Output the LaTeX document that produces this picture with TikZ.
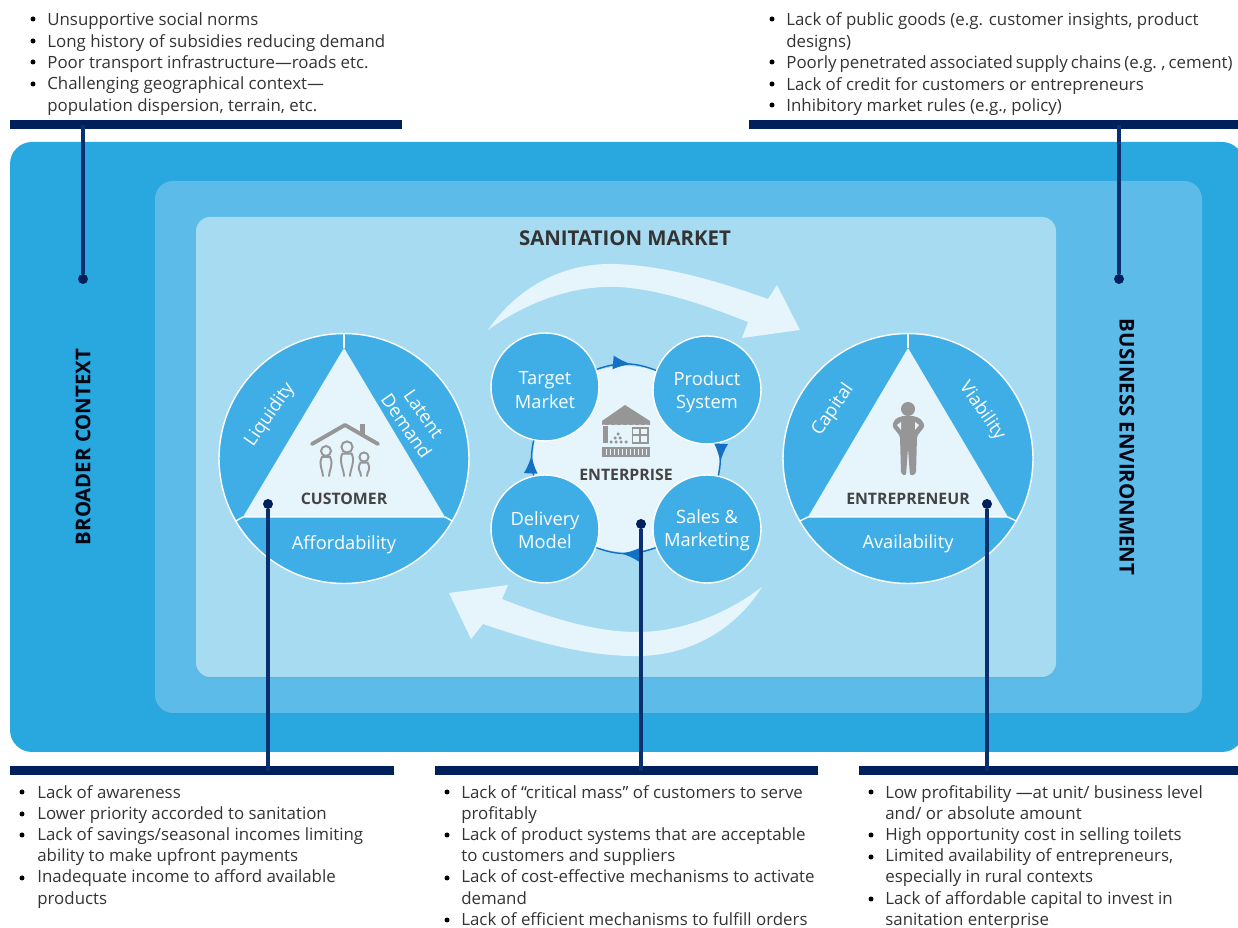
\documentclass[tikz,border=0pt]{standalone}
\usepackage{fontspec}
\setmainfont{Open Sans}
\usetikzlibrary{calc,decorations.markings,shadows}
\usetikzlibrary{arrows}
\definecolor{outerblue}{HTML}{29A8E0}
\definecolor{midblue}{HTML}{5CBBE8}
\definecolor{innerblue}{HTML}{A6DBF2}
\definecolor{discblue}{HTML}{3FAEE6}
\definecolor{palefill}{HTML}{E6F4FC}
\definecolor{navybar}{HTML}{00205B}
\definecolor{navyline}{HTML}{0A2F6E}
\definecolor{ringblue}{HTML}{1470C4}
\definecolor{icongray}{HTML}{969696}
\definecolor{textgray}{HTML}{333333}
\definecolor{wordgray}{HTML}{444444}
\tikzset{
  panelshade/.style={drop shadow={opacity=0.18,shadow xshift=0pt,shadow yshift=-0.6pt}},
  listtext/.style={anchor=north west,inner sep=0pt,align=left,text=textgray,font=\fontsize{9.6}{12.2}\selectfont},
  lowlist/.style={listtext,font=\fontsize{9.6}{12.05}\selectfont},
  bardark/.style={fill=navybar,inner sep=0pt,minimum height=0.18cm,anchor=north west},
  pointdot/.style={circle,fill=navybar,inner sep=0pt,minimum size=0.2cm},
  pointline/.style={draw=navyline,line width=1.8pt},
  bigdisc/.style={circle,draw=white,fill=discblue,line width=0.8pt,inner sep=0pt,minimum size=5cm},
  stepdisc/.style={circle,draw=white,fill=discblue,line width=0.8pt,inner sep=0pt,minimum size=2.16cm},
  disctext/.style={text=white,align=center,inner sep=0pt,font=\fontsize{10.4}{12}\selectfont},
  stepword/.style={text=white,align=center,inner sep=0pt,font=\fontsize{10.4}{13.2}\selectfont},
  boldtext/.style={text=wordgray,inner sep=0pt,font=\fontsize{9}{10}\bfseries\selectfont},
  ringarrow/.style={draw=ringblue,line width=0.8pt,decoration={markings,mark=at position 0.58 with {\arrow[scale=2]{latex}}},postaction={decorate}},
  sideword/.style={text=black!80!navybar,inner sep=0pt,font=\fontsize{11.6}{14}\bfseries\selectfont}
}
\begin{document}
\begin{tikzpicture}[x=0.02cm,y=-0.02cm]
\useasboundingbox (0,0) rectangle (1238,928);
% panels
\fill[outerblue,rounded corners=0.44cm] (10,142) rectangle (1244,752);
\fill[midblue,rounded corners=0.36cm,panelshade] (155,181) rectangle (1202,713);
\fill[innerblue,rounded corners=0.28cm,panelshade] (196,217) rectangle (1056,677);
\node[sideword,rotate=90] (broader) at (83,447) {BROADER CONTEXT};
\node[sideword,rotate=-90] (business) at (1127,447) {BUSINESS ENVIRONMENT};
\node[sideword,text=textgray] (market) at (625,238.5) {SANITATION MARKET};
% big arrows
\fill[palefill] (488,330) .. controls (515,290) and (560,263) .. (613,264) .. controls (665,265) and (720,282) .. (768,299) -- (777,285) -- (800,330) -- (742,338) -- (748,322) .. controls (700,303) and (660,290) .. (620,287) .. controls (575,285) and (530,300) .. (488,330) -- cycle;
\fill[palefill] (762,587) .. controls (735,630) and (690,655) .. (640,656) .. controls (585,657) and (530,640) .. (483,624) -- (471,639) -- (449,593) -- (508,585) -- (502,599) .. controls (550,618) and (595,632) .. (637,632) .. controls (680,632) and (725,615) .. (762,587) -- cycle;
% customer
\node[bigdisc] (customer) at (344,458.5) {};
\fill[palefill] (344,348) -- (243,517) -- (445,517) -- cycle;
\draw[white,line width=0.8pt] (customer.90) -- (344,348);
\draw[white,line width=0.8pt] (customer.210) -- (243,517) -- (445,517) -- (customer.330);
\node[disctext,rotate=55] (liquidity) at (270,415) {Liquidity};
\node[disctext,rotate=-55] (latent) at (415,420) {Latent\\Demand};
\node[disctext] (afford) at (344,544.5) {Affordability};
\node[boldtext] (customerword) at (344,499) {CUSTOMER};
% house and family
\draw[icongray,line width=2.2pt,line cap=round,line join=round] (312,444) -- (345,425) -- (378,444);
\fill[icongray] (360,424) rectangle (365,434);
\foreach \px/\py/\pr in {326/451/5,347/447/5.6,364/457/4.6}{
  \draw[icongray,line width=1.1pt] (\px,\py) circle[radius=\pr*0.02cm];
  \draw[icongray,line width=1.1pt,line cap=round] (\px-3,476) .. controls (\px-3,470) and (\px-\pr-3,\py+14) .. (\px-\pr+1,\py+\pr+1) -- (\px+\pr-1,\py+\pr+1) .. controls (\px+\pr+3,\py+14) and (\px+3,470) .. (\px+3,476);
}
% entrepreneur
\node[bigdisc] (entrepreneur) at (908,458.5) {};
\fill[palefill] (908,348) -- (808,517) -- (1008,517) -- cycle;
\draw[white,line width=0.8pt] (entrepreneur.90) -- (908,348);
\draw[white,line width=0.8pt] (entrepreneur.210) -- (808,517) -- (1008,517) -- (entrepreneur.330);
\node[disctext,rotate=55] (capital) at (833,410) {Capital};
\node[disctext,rotate=-55] (viability) at (982,411) {Viability};
\node[disctext] (avail) at (908,544) {Availability};
\node[boldtext] (entreword) at (908,499) {ENTREPRENEUR};
% person
\fill[icongray] (908,409) circle[radius=0.14cm];
\fill[icongray,rounded corners=1.5pt] (902,416) -- (914,416) -- (921,419) -- (925,426) -- (917,436) -- (916,474) -- (910,476) -- (908,448) -- (906,476) -- (901,474) -- (900,436) -- (892,426) -- (895,419) -- cycle;
\fill[palefill] (897,425) -- (901,422) -- (901,430) -- cycle (919,425) -- (915,422) -- (915,430) -- cycle;
% enterprise
\node[circle,fill=palefill,inner sep=0pt,minimum size=3.72cm] (hub) at (626,459) {};
\node[stepdisc] (target) at (545,387) {};
\node[stepdisc] (product) at (707,390) {};
\node[stepdisc] (sales) at (707,529) {};
\node[stepdisc] (delivery) at (545,529) {};
\node[stepword] (targetword) at (545,390) {Target\\Market};
\node[stepword] (productword) at (707,392.5) {Product\\System};
\node[stepword] (salesword) at (707,530.5) {Sales \&\\Marketing};
\node[stepword] (deliveryword) at (545,530) {Delivery\\Model};
\draw[ringarrow] (target) to[bend left=20] (product);
\draw[ringarrow] (product) to[bend left=12] (sales);
\draw[ringarrow] (sales) to[bend left=20] (delivery);
\draw[ringarrow] (delivery) to[bend left=12] (target);
\node[boldtext] (enterword) at (626,475) {ENTERPRISE};
% shop
\fill[icongray] (602,421) -- (625,405) -- (650,421) -- (650,425) -- (602,425) -- cycle;
\foreach \bx in {604,610,...,650}{\fill[palefill] (\bx,426.5) circle[radius=0.04cm];}
\fill[icongray] (603,426) rectangle (608,443);
\draw[icongray,line width=1.1pt] (632.5,428) rectangle (648,443);
\draw[icongray,line width=0.9pt] (640,428) -- (640,443) (632.5,435) -- (648,435);
\fill[icongray] (602,447) rectangle (650,457);
\foreach \bx in {606,610,...,646}{\draw[palefill,line width=0.5pt] (\bx,449) -- (\bx,455);}
\foreach \bx/\by in {611/442,616/442,621/442,626/442,615/438,620/438,618/434}{\fill[icongray] (\bx,\by) circle[radius=0.035cm];}
% top lists
\node[listtext] (ctxlist) at (47,12.5) {Unsupportive social norms\\Long history of subsidies reducing demand\\Poor transport infrastructure—roads etc.\\Challenging geographical context—\\population dispersion, terrain, etc.};
\node[listtext] (envlist) at (786,12.5) {Lack of public goods (e.g. customer insights, product\\designs)\\{\spaceskip=0.18em Poorly penetrated associated supply chains (e.g. , cement)}\\Lack of credit for customers or entrepreneurs\\Inhibitory market rules (e.g., policy)};
% bottom lists
\node[lowlist] (cuslist) at (37,785) {Lack of awareness\\Lower priority accorded to sanitation\\Lack of savings/seasonal incomes limiting\\ability to make upfront payments\\Inadequate income to afford available\\products};
\node[lowlist] (entlist) at (461,785) {Lack of “critical mass” of customers to serve\\profitably\\Lack of product systems that are acceptable\\to customers and suppliers\\Lack of cost-effective mechanisms to activate\\demand\\Lack of efficient mechanisms to fulfill orders};
\node[lowlist] (prelist) at (885,785) {Low profitability —at unit/ business level\\and/ or absolute amount\\High opportunity cost in selling toilets\\Limited availability of entrepreneurs,\\especially in rural contexts\\Lack of affordable capital to invest in\\sanitation enterprise};
% bullets
\foreach \bx/\by in {33/19,33/41,33/62,33/84,772/19,772/62,772/84,772/105,22/792,22/814,22/835,22/878,447/792,447/835,447/878,447/920,871/792,871/835,871/857,871/899}{
  \fill[black] (\bx,\by) circle[radius=0.05cm];
}
% bars
\node[bardark,minimum width=7.84cm] (barctx) at (10,120) {};
\node[bardark,minimum width=9.78cm] (barenv) at (749,120) {};
\node[bardark,minimum width=7.68cm] (barcus) at (10,766) {};
\node[bardark,minimum width=7.66cm] (barent) at (435,766) {};
\node[bardark,minimum width=7.58cm] (barpre) at (859,766) {};
% pointers
\node[pointdot] (dotctx) at (83,279) {};
\node[pointdot] (dotenv) at (1119,279) {};
\node[pointdot] (dotcus) at (268,504) {};
\node[pointdot] (dotent) at (641,524) {};
\node[pointdot] (dotpre) at (987,504) {};
\draw[pointline] (dotctx) -- (dotctx |- barctx);
\draw[pointline] (dotenv) -- (dotenv |- barenv);
\draw[pointline] (dotcus) -- (dotcus |- barcus);
\draw[pointline] (dotent) -- (dotent |- barent);
\draw[pointline] (dotpre) -- (dotpre |- barpre);
\end{tikzpicture}
\end{document}
